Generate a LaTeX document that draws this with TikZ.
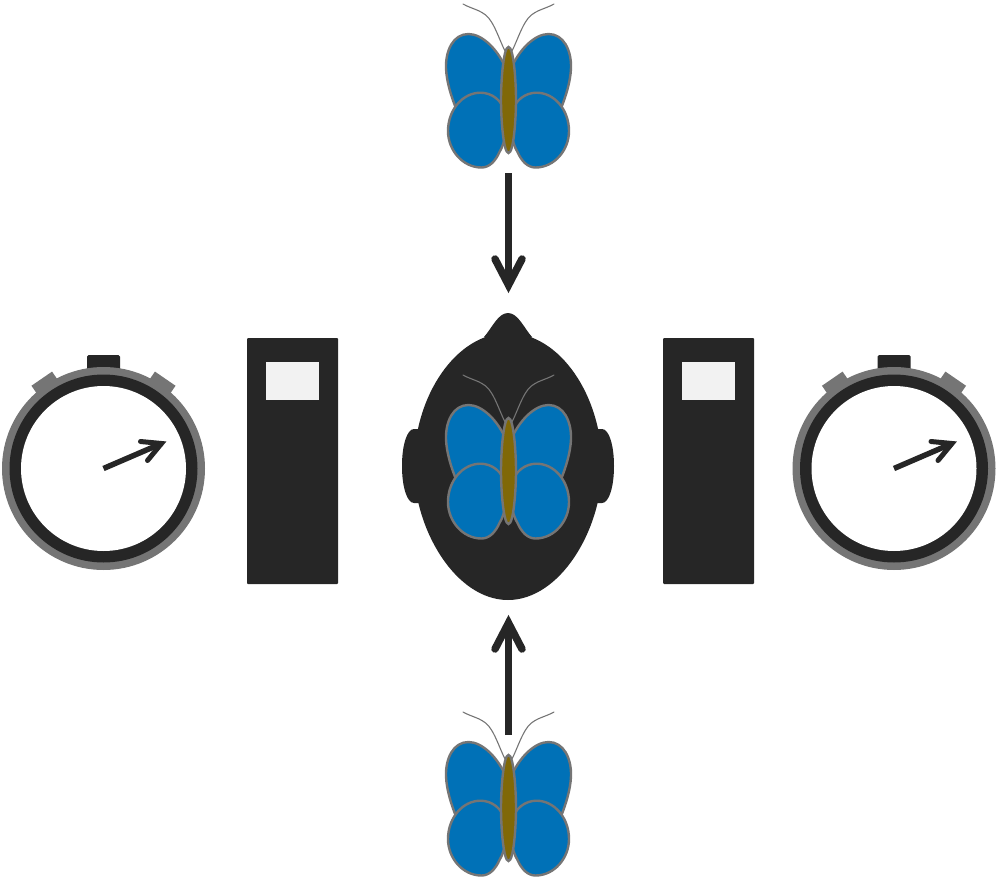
\documentclass[tikz,border=0pt]{standalone}
\usetikzlibrary{calc}
\definecolor{dk}{HTML}{262626}
\definecolor{gr}{HTML}{757575}
\definecolor{bl}{HTML}{0071B7}
\definecolor{br}{HTML}{806807}
\definecolor{lt}{HTML}{F2F2F2}
\tikzset{
  wing/.style={draw=gr,fill=bl,line width=2.4pt,line join=round},
  bodyshape/.style={draw=gr,fill=br,line width=2.4pt},
  antenna/.style={draw=gr,line width=1.1pt,line cap=round},
  bigarrow/.style={draw=dk,line width=7.5pt},
  bigtip/.style={draw=dk,line width=7.5pt,line cap=round,line join=miter},
  hand/.style={draw=dk,line width=5.5pt},
  handtip/.style={draw=dk,line width=5pt,line cap=round,line join=miter},
  pics/butterfly/.style={code={
    \draw[antenna] (-45.5,-96) .. controls (-35,-90) and (-24,-90) .. (-17,-78) .. controls (-12,-70) and (-8,-58) .. (-3.5,-49);
    \draw[antenna] (45.5,-96) .. controls (35,-90) and (24,-90) .. (17,-78) .. controls (12,-70) and (8,-58) .. (3.5,-49);
    \foreach \s in {-1,1}{
      \draw[wing,xscale=\s] (-2,-30) .. controls (-10,-50) and (-26,-66) .. (-40,-66) .. controls (-55,-66) and (-63,-50) .. (-62.5,-32) .. controls (-62,-18) and (-57,-3) .. (-53,7) -- (-4,12) -- cycle;
      \draw[wing,xscale=\s] (-28,-7.3) .. controls (-17,-7.3) and (-6,0) .. (-3,14) .. controls (-1,28) and (-3,42) .. (-9,52) .. controls (-13,61) and (-19,67.5) .. (-27,67.5) .. controls (-46,67.5) and (-60.5,50) .. (-60.5,31) .. controls (-60.5,10) and (-46,-7.3) .. (-28,-7.3) -- cycle;
    }
    \draw[bodyshape] (0,-53) .. controls (5,-53) and (7.5,-20) .. (7.5,0) .. controls (7.5,20) and (5,53) .. (0,53) .. controls (-5,53) and (-7.5,20) .. (-7.5,0) .. controls (-7.5,-20) and (-5,-53) .. (0,-53) -- cycle;
  }},
  pics/watch/.style={code={
    \fill[dk,rounded corners=1.5pt] (-16.5,-113.5) rectangle (16.5,-95);
    \foreach \a in {-34.5,34.5}{
      \fill[gr,rotate=\a] (-12.5,-109) rectangle (12.5,-90);
    }
    \fill[gr] (0,0) circle (101.5);
    \fill[dk] (0,0) circle (94);
    \fill[white] (0,0) circle (82.5);
  }},
  pics/panel/.style={code={
    \fill[dk,rounded corners=1pt] (-45.5,-123) rectangle (45.5,123);
    \fill[lt] (-27,-99) rectangle (26.5,-61);
  }}
}
\begin{document}
\begin{tikzpicture}[x=1pt,y=-1pt]
\useasboundingbox (0,0) rectangle (996,880);
% head
\fill[dk] (402,466) .. controls (402,445) and (407,429) .. (414,429) -- (425,429) -- (425,503) -- (414,503) .. controls (407,503) and (402,487) .. (402,466) -- cycle;
\fill[dk] (614,466) .. controls (614,445) and (609,429) .. (602,429) -- (591,429) -- (591,503) -- (602,503) .. controls (609,503) and (614,487) .. (614,466) -- cycle;
\fill[dk] (484,337) .. controls (492,328) and (498,313) .. (508,313) .. controls (518,313) and (524,328) .. (532,337) -- (520,345) -- (496,345) -- cycle;
\fill[dk] (508,600) .. controls (456,600) and (414,530) .. (414,466) .. controls (414,396) and (456,333) .. (508,333) .. controls (560,333) and (602,396) .. (602,466) .. controls (602,530) and (560,600) .. (508,600) -- cycle;
% butterflies
\pic at (508.5,100) {butterfly};
\pic at (508.5,471) {butterfly};
\pic at (508.5,808) {butterfly};
% panels
\pic at (292.5,461) {panel};
\pic at (708.5,461) {panel};
% watches
\begin{scope}[shift={(103.5,468.5)}]
\pic {watch};
\coordinate (ha) at (0,0);
\coordinate (hb) at (58,-25);
\draw[hand] (ha) -- (hb);
\draw[handtip] (37,-27) -- (hb) -- (44,-8);
\end{scope}
\begin{scope}[shift={(894,468.5)}]
\pic {watch};
\coordinate (hc) at (0,0);
\coordinate (hd) at (58,-25);
\draw[hand] (hc) -- (hd);
\draw[handtip] (37,-27) -- (hd) -- (44,-8);
\end{scope}
% arrows
\coordinate (ta) at (508.5,173);
\coordinate (tb) at (508.5,285);
\coordinate (ba) at (508.5,735);
\coordinate (bb) at (508.5,623);
\draw[bigarrow] (ta) -- (tb);
\draw[bigtip] (495,259) -- (tb) -- (522,259);
\draw[bigarrow] (ba) -- (bb);
\draw[bigtip] (495,649) -- (bb) -- (522,649);
\end{tikzpicture}
\end{document}
